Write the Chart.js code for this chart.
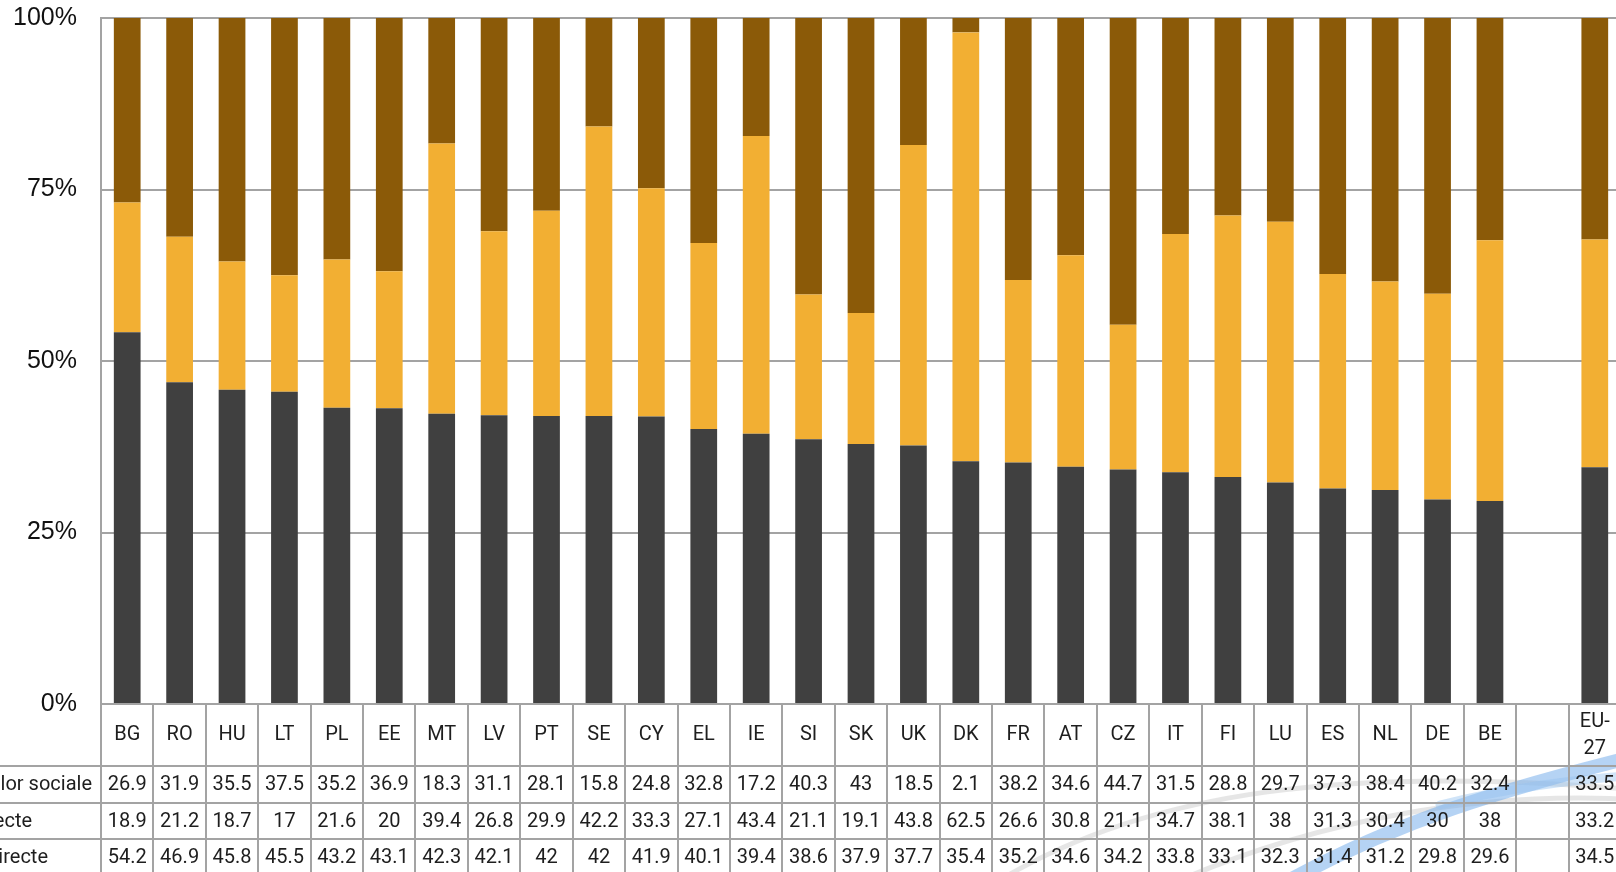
<!DOCTYPE html>
<html>
<head>
<meta charset="utf-8">
<script src="https://cdn.jsdelivr.net/npm/chart.js@4"></script>
<style>
  html, body { margin: 0; padding: 0; background: #fff; overflow: hidden; }
  #wrap { width: 1616px; height: 872px; overflow: hidden; }
</style>
</head>
<body>
<div id="wrap"><canvas id="chart" width="1640" height="880"></canvas></div>
<script>
const countries = ["BG","RO","HU","LT","PL","EE","MT","LV","PT","SE","CY","EL","IE","SI","SK","UK","DK","FR","AT","CZ","IT","FI","LU","ES","NL","DE","BE","",["EU-","27"]]
const socialContrib = [26.9,31.9,35.5,37.5,35.2,36.9,18.3,31.1,28.1,15.8,24.8,32.8,17.2,40.3,43,18.5,2.1,38.2,34.6,44.7,31.5,28.8,29.7,37.3,38.4,40.2,32.4,null,33.5]
const directTax = [18.9,21.2,18.7,17,21.6,20,39.4,26.8,29.9,42.2,33.3,27.1,43.4,21.1,19.1,43.8,62.5,26.6,30.8,21.1,34.7,38.1,38,31.3,30.4,30,38,null,33.2]
const indirectTax = [54.2,46.9,45.8,45.5,43.2,43.1,42.3,42.1,42,42,41.9,40.1,39.4,38.6,37.9,37.7,35.4,35.2,34.6,34.2,33.8,33.1,32.3,31.4,31.2,29.8,29.6,null,34.5]
const yTicks = [0,25,50,75,100]

const rowNames = ["Contribuții asigurărilor sociale","Impozite directe","Impozite indirecte"]
const rowSeries = [socialContrib, directTax, indirectTax]
// where each row name ends; the header column is wider than the window shows
const rowNameEnds = [92, null, 48]

const GRID = "#a3a3a3"
const TABLE_FONT = "20px Roboto"

// faint watermark arcs in the lower right corner
const watermark = {
  id: "watermark",
  beforeDraw(chart){
    const ctx = chart.ctx
    ctx.save()
    ctx.lineCap = "round"
    ctx.strokeStyle = "rgba(200,200,200,0.45)"
    ctx.lineWidth = 5
    ctx.beginPath(); ctx.moveTo(1000, 880); ctx.bezierCurveTo(1150, 790, 1350, 765, 1640, 790); ctx.stroke()
    ctx.beginPath(); ctx.moveTo(1180, 880); ctx.bezierCurveTo(1320, 820, 1480, 790, 1640, 800); ctx.stroke()
    ctx.strokeStyle = "rgba(120,175,235,0.55)"
    ctx.lineWidth = 14
    ctx.beginPath(); ctx.moveTo(1290, 880); ctx.bezierCurveTo(1400, 820, 1500, 790, 1640, 755); ctx.stroke()
    ctx.strokeStyle = "rgba(150,195,240,0.45)"
    ctx.lineWidth = 9
    ctx.beginPath(); ctx.moveTo(1440, 805); ctx.bezierCurveTo(1500, 790, 1560, 780, 1640, 775); ctx.stroke()
    ctx.restore()
  }
}

// data table under the plot (Excel style)
const dataTable = {
  id: "dataTable",
  afterDraw(chart){
    const ctx = chart.ctx
    const xs = chart.scales.x
    const area = chart.chartArea
    const n = chart.data.labels.length
    const colW = (area.right - area.left) / n
    const headerH = 62
    const rowH = 36.5
    const top = area.bottom
    const bottom = chart.height

    ctx.save()
    ctx.strokeStyle = GRID
    ctx.lineWidth = 2

    for(let r = 0; r <= rowSeries.length; r++){
      const y = Math.round(top + headerH + r * rowH)
      ctx.beginPath(); ctx.moveTo(-10, y); ctx.lineTo(area.right, y); ctx.stroke()
    }
    for(let i = 0; i <= n; i++){
      const x = Math.round(area.left + i * colW)
      ctx.beginPath(); ctx.moveTo(x, top); ctx.lineTo(x, bottom); ctx.stroke()
    }

    ctx.fillStyle = "#1e1e1e"
    ctx.font = TABLE_FONT
    ctx.textAlign = "center"
    ctx.textBaseline = "middle"

    chart.data.labels.forEach((lab, i) => {
      const cx = xs.getPixelForValue(i)
      if(Array.isArray(lab)){
        ctx.fillText(lab[0], cx, top + 18)
        ctx.fillText(lab[1], cx, top + 45)
      } else {
        ctx.fillText(lab, cx, top + headerH / 2)
      }
    })

    rowSeries.forEach((series, r) => {
      const cy = top + headerH + r * rowH + rowH / 2 + 1
      series.forEach((v, i) => {
        if(v === null) return
        ctx.fillText(String(v), xs.getPixelForValue(i), cy)
      })
    })

    // row names, left aligned and running off the left edge
    ctx.textAlign = "left"
    const x0 = rowNameEnds[2] - ctx.measureText(rowNames[2]).width
    rowNames.forEach((name, r) => {
      const x = rowNameEnds[r] === null ? x0 : rowNameEnds[r] - ctx.measureText(name).width
      ctx.fillText(name, x, top + headerH + r * rowH + rowH / 2 + 1)
    })
    ctx.restore()
  }
}

new Chart(document.getElementById("chart"), {
  type: "bar",
  data: {
    labels: countries,
    datasets: [
      { label: rowNames[2], data: indirectTax, backgroundColor: "#404040" },
      { label: rowNames[1], data: directTax, backgroundColor: "#f2af33" },
      { label: rowNames[0], data: socialContrib, backgroundColor: "#8b5a08" }
    ]
  },
  options: {
    responsive: false,
    animation: false,
    devicePixelRatio: 1,
    layout: { autoPadding: false, padding: { top: 18, right: 19, bottom: 176, left: 0 } },
    datasets: { bar: { categoryPercentage: 1, barPercentage: 0.51 } },
    plugins: { legend: { display: false }, tooltip: { enabled: false } },
    scales: {
      x: {
        stacked: true,
        afterFit(scale){ scale.height = 0 },
        ticks: { display: false },
        grid: { display: false, drawTicks: false },
        border: { display: true, color: GRID, width: 2 }
      },
      y: {
        stacked: true,
        min: 0,
        max: 100,
        afterFit(scale){
          scale.width = 101
          scale.paddingTop = 0
          scale.paddingBottom = 0
        },
        afterBuildTicks(scale){ scale.ticks = yTicks.map(v => ({ value: v })) },
        ticks: {
          padding: 24,
          color: "#111",
          font: { family: "'Liberation Sans', Arial", size: 25 },
          callback: v => v + "%"
        },
        grid: { color: GRID, lineWidth: 2, drawTicks: false },
        border: { display: true, color: GRID, width: 2 }
      }
    }
  },
  plugins: [watermark, dataTable]
})
</script>
</body>
</html>
